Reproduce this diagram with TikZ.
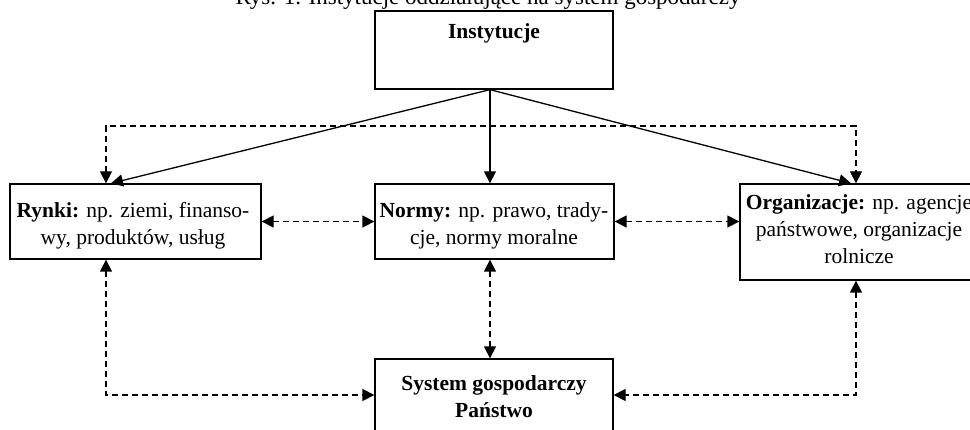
\documentclass[tikz,border=0pt]{standalone}
\usepackage{fontspec}
\setmainfont{Liberation Serif}
\usetikzlibrary{arrows.meta}
\tikzset{
  box/.style={draw, line width=1.3pt, inner sep=0pt, fill=white},
  txt/.style={inner sep=0pt, align=center, anchor=north, font=\fontsize{21.5}{27}\selectfont},
  tip/.style={Triangle[length=12pt,width=12pt]},
  solidarrow/.style={line width=1.3pt, -{Triangle[length=12pt,width=12pt]}},
  dasharrow/.style={line width=1.3pt, dash pattern=on 6pt off 4pt, {Triangle[length=12pt,width=12pt]}-{Triangle[length=12pt,width=12pt]}},
}
\newcommand{\sr}{\rule{0pt}{16pt}}
\begin{document}
\begin{tikzpicture}[x=1pt,y=1pt]
\clip (0,0) rectangle (970,429);
\node[font=\fontsize{23}{27}\selectfont, anchor=base, inner sep=0pt] (title) at (488,424) {Rys. 1. Instytucje oddziałujące na system gospodarczy};
% boxes
\node[box, minimum width=238pt, minimum height=78pt] (inst) at (494,379) {};
\node[box, minimum width=251pt, minimum height=75pt] (rynki) at (135.5,207.5) {};
\node[box, minimum width=239pt, minimum height=75pt] (normy) at (494.5,207.5) {};
\node[box, minimum width=236pt, minimum height=96pt] (org) at (858,197) {};
\node[box, minimum width=238pt, minimum height=100pt] (sys) at (494,20) {};
% texts
\node[txt, anchor=base] (instt) at (494,390) {\textbf{Instytucje}};
\node[txt] (rynkit) at (133,228) {\sr\textbf{Rynki:} np. ziemi, finanso-\\wy, produktów, usług};
\node[txt] (normyt) at (494,228) {\sr\textbf{Normy:} np. prawo, trady-\\cje, normy moralne};
\node[txt] (orgt) at (859,236) {\sr\textbf{Organizacje:} np. agencje\\państwowe, organizacje\\rolnicze};
\node[txt] (syst) at (494,55) {\sr\textbf{System gospodarczy}\\\textbf{Państwo}};
% solid arrows
\draw[solidarrow] (490,0 |- inst.south) -- (111,0 |- rynki.north);
\draw[solidarrow] (490,0 |- inst.south) -- (490,0 |- normy.north);
\draw[solidarrow] (490,0 |- inst.south) -- (851,0 |- org.north);
% dashed arrows
\draw[dasharrow] (106,0 |- rynki.north) -- (106,303) -- (856,303) -- (856,0 |- org.north);
\draw[dasharrow] (rynki.east) -- (normy.west);
\draw[dasharrow] (normy.east) -- (org.west |- normy.east);
\draw[dasharrow] (490,0 |- normy.south) -- (490,0 |- sys.north);
\draw[dasharrow] (106,0 |- rynki.south) -- (106,34) -- (sys.west |- 0,34);
\draw[dasharrow] (856,0 |- org.south) -- (856,34) -- (sys.east |- 0,34);
\end{tikzpicture}
\end{document}
